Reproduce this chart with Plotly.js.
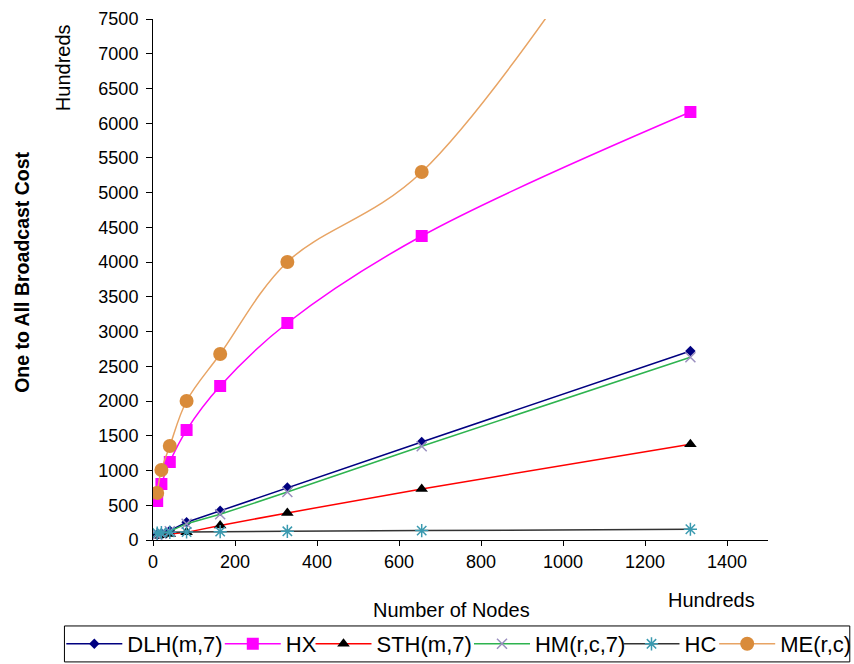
<!DOCTYPE html>
<html><head><meta charset="utf-8">
<script src="https://cdn.plot.ly/plotly-3.0.1.min.js"></script>
<style>body{margin:0;background:#fff}#c{width:854px;height:664px}</style>
</head><body><div id="c"></div>
<script>
const nodes = [10.24, 20.48, 40.96, 81.92, 163.84, 327.68, 655.36, 1310.72];
const dlh = [75, 95, 135, 255, 420, 755, 1410, 2720];
const hx = [561, 806, 1123, 1583, 2217, 3124, 4376, 6161];
const sth = [60, 70, 85, 110, 210, 390, 735, 1380];
const hm = [75, 90, 125, 235, 370, 690, 1350, 2630];
const hc = [100, 105, 110, 115, 120, 125, 135, 155];
const me = [677, 1008, 1353, 2001, 2677, 4002, 5297, 10600];
const names = ['DLH(m,7)', 'HX', 'STH(m,7)', 'HM(r,c,7)', 'HC', 'ME(r,c)'];
const xTicks = [0, 200, 400, 600, 800, 1000, 1200, 1400];

const font = 'Liberation Sans, Arial, sans-serif';
function tr(y, name, lineColor, shape, mSym, mColor, mSize, mLine, lg) {
  return {x: nodes, y: y, name: name, type: 'scatter', mode: 'lines+markers', legend: lg,
    line: {color: lineColor, width: 1.5, shape: shape, smoothing: 1},
    marker: {symbol: mSym, color: mColor, size: mSize, line: mLine || {width: 0}}};
}
const data = [
  tr(dlh, names[0], '#000080', 'linear', 'diamond', '#000080', 8, null, 'legend'),
  tr(hx, names[1], '#FF00FF', 'spline', 'square', '#FF00FF', 12, null, 'legend2'),
  tr(sth, names[2], '#FF0000', 'linear', 'triangle-up', '#000000', 11, null, 'legend3'),
  tr(hm, names[3], '#2DB34F', 'linear', 'x-thin-open', '#9A8FBF', 10, {width: 1.5, color: '#9A8FBF'}, 'legend4'),
  tr(hc, names[4], '#333333', 'linear', 'asterisk-open', '#3A9AB0', 11, {width: 1.5, color: '#3A9AB0'}, 'legend5'),
  tr(me, names[5], '#E8A464', 'spline', 'circle', '#D98B3A', 14, null, 'legend6')
];
const legFont = {family: font, size: 22, color: '#000'};
function leg(x) {
  return {orientation: 'h', xanchor: 'left', yanchor: 'middle', y: -0.1996, x: x,
    borderwidth: 0, bgcolor: 'rgba(0,0,0,0)', font: legFont, itemwidth: 56, tracegroupgap: 0};
}
const layout = {
  width: 854, height: 664,
  margin: {l: 153, r: 86, t: 19, b: 124, autoexpand: false},
  paper_bgcolor: '#fff', plot_bgcolor: '#fff',
  font: {family: font, size: 18, color: '#000'},
  showlegend: true,
  legend: leg(-0.1491),
  legend2: leg(0.1086),
  legend3: leg(0.2561),
  legend4: leg(0.5138),
  legend5: leg(0.7569),
  legend6: leg(0.9125),
  shapes: [{type: 'rect', xref: 'paper', yref: 'paper', x0: -0.144, x1: 1.133, y0: -0.234, y1: -0.165,
    line: {color: '#000', width: 1}, fillcolor: 'rgba(0,0,0,0)', layer: 'below'}],
  xaxis: {range: [0, 1500], tickvals: xTicks, ticktext: xTicks.map(String),
    showgrid: false, zeroline: false, showline: true, linecolor: '#000', linewidth: 1,
    ticks: 'outside', ticklen: 5, tickcolor: '#000', tickfont: {family: font, size: 18, color: '#000'}},
  yaxis: {range: [0, 7500], dtick: 500, showgrid: false, zeroline: false, showline: true,
    linecolor: '#000', linewidth: 1, ticks: 'outside', ticklen: 6, tickcolor: '#000',
    ticklabelstandoff: 4,
    tickfont: {family: font, size: 18, color: '#000'}},
  annotations: [
    {text: '<b>One to All Broadcast Cost</b>', xref: 'paper', yref: 'paper', x: -0.212, y: 0.514,
      xanchor: 'center', yanchor: 'middle', textangle: -90, showarrow: false, font: {family: font, size: 19.5}},
    {text: 'Hundreds', xref: 'paper', yref: 'paper', x: -0.146, y: 0.906,
      xanchor: 'center', yanchor: 'middle', textangle: -90, showarrow: false, font: {family: font, size: 20}},
    {text: 'Number of Nodes', xref: 'paper', yref: 'paper', x: 0.485, y: -0.134,
      xanchor: 'center', yanchor: 'middle', showarrow: false, font: {family: font, size: 20}},
    {text: 'Hundreds', xref: 'paper', yref: 'paper', x: 0.908, y: -0.115,
      xanchor: 'center', yanchor: 'middle', showarrow: false, font: {family: font, size: 20}}
  ]
};
Plotly.newPlot('c', data, layout, {displayModeBar: false});
</script></body></html>
